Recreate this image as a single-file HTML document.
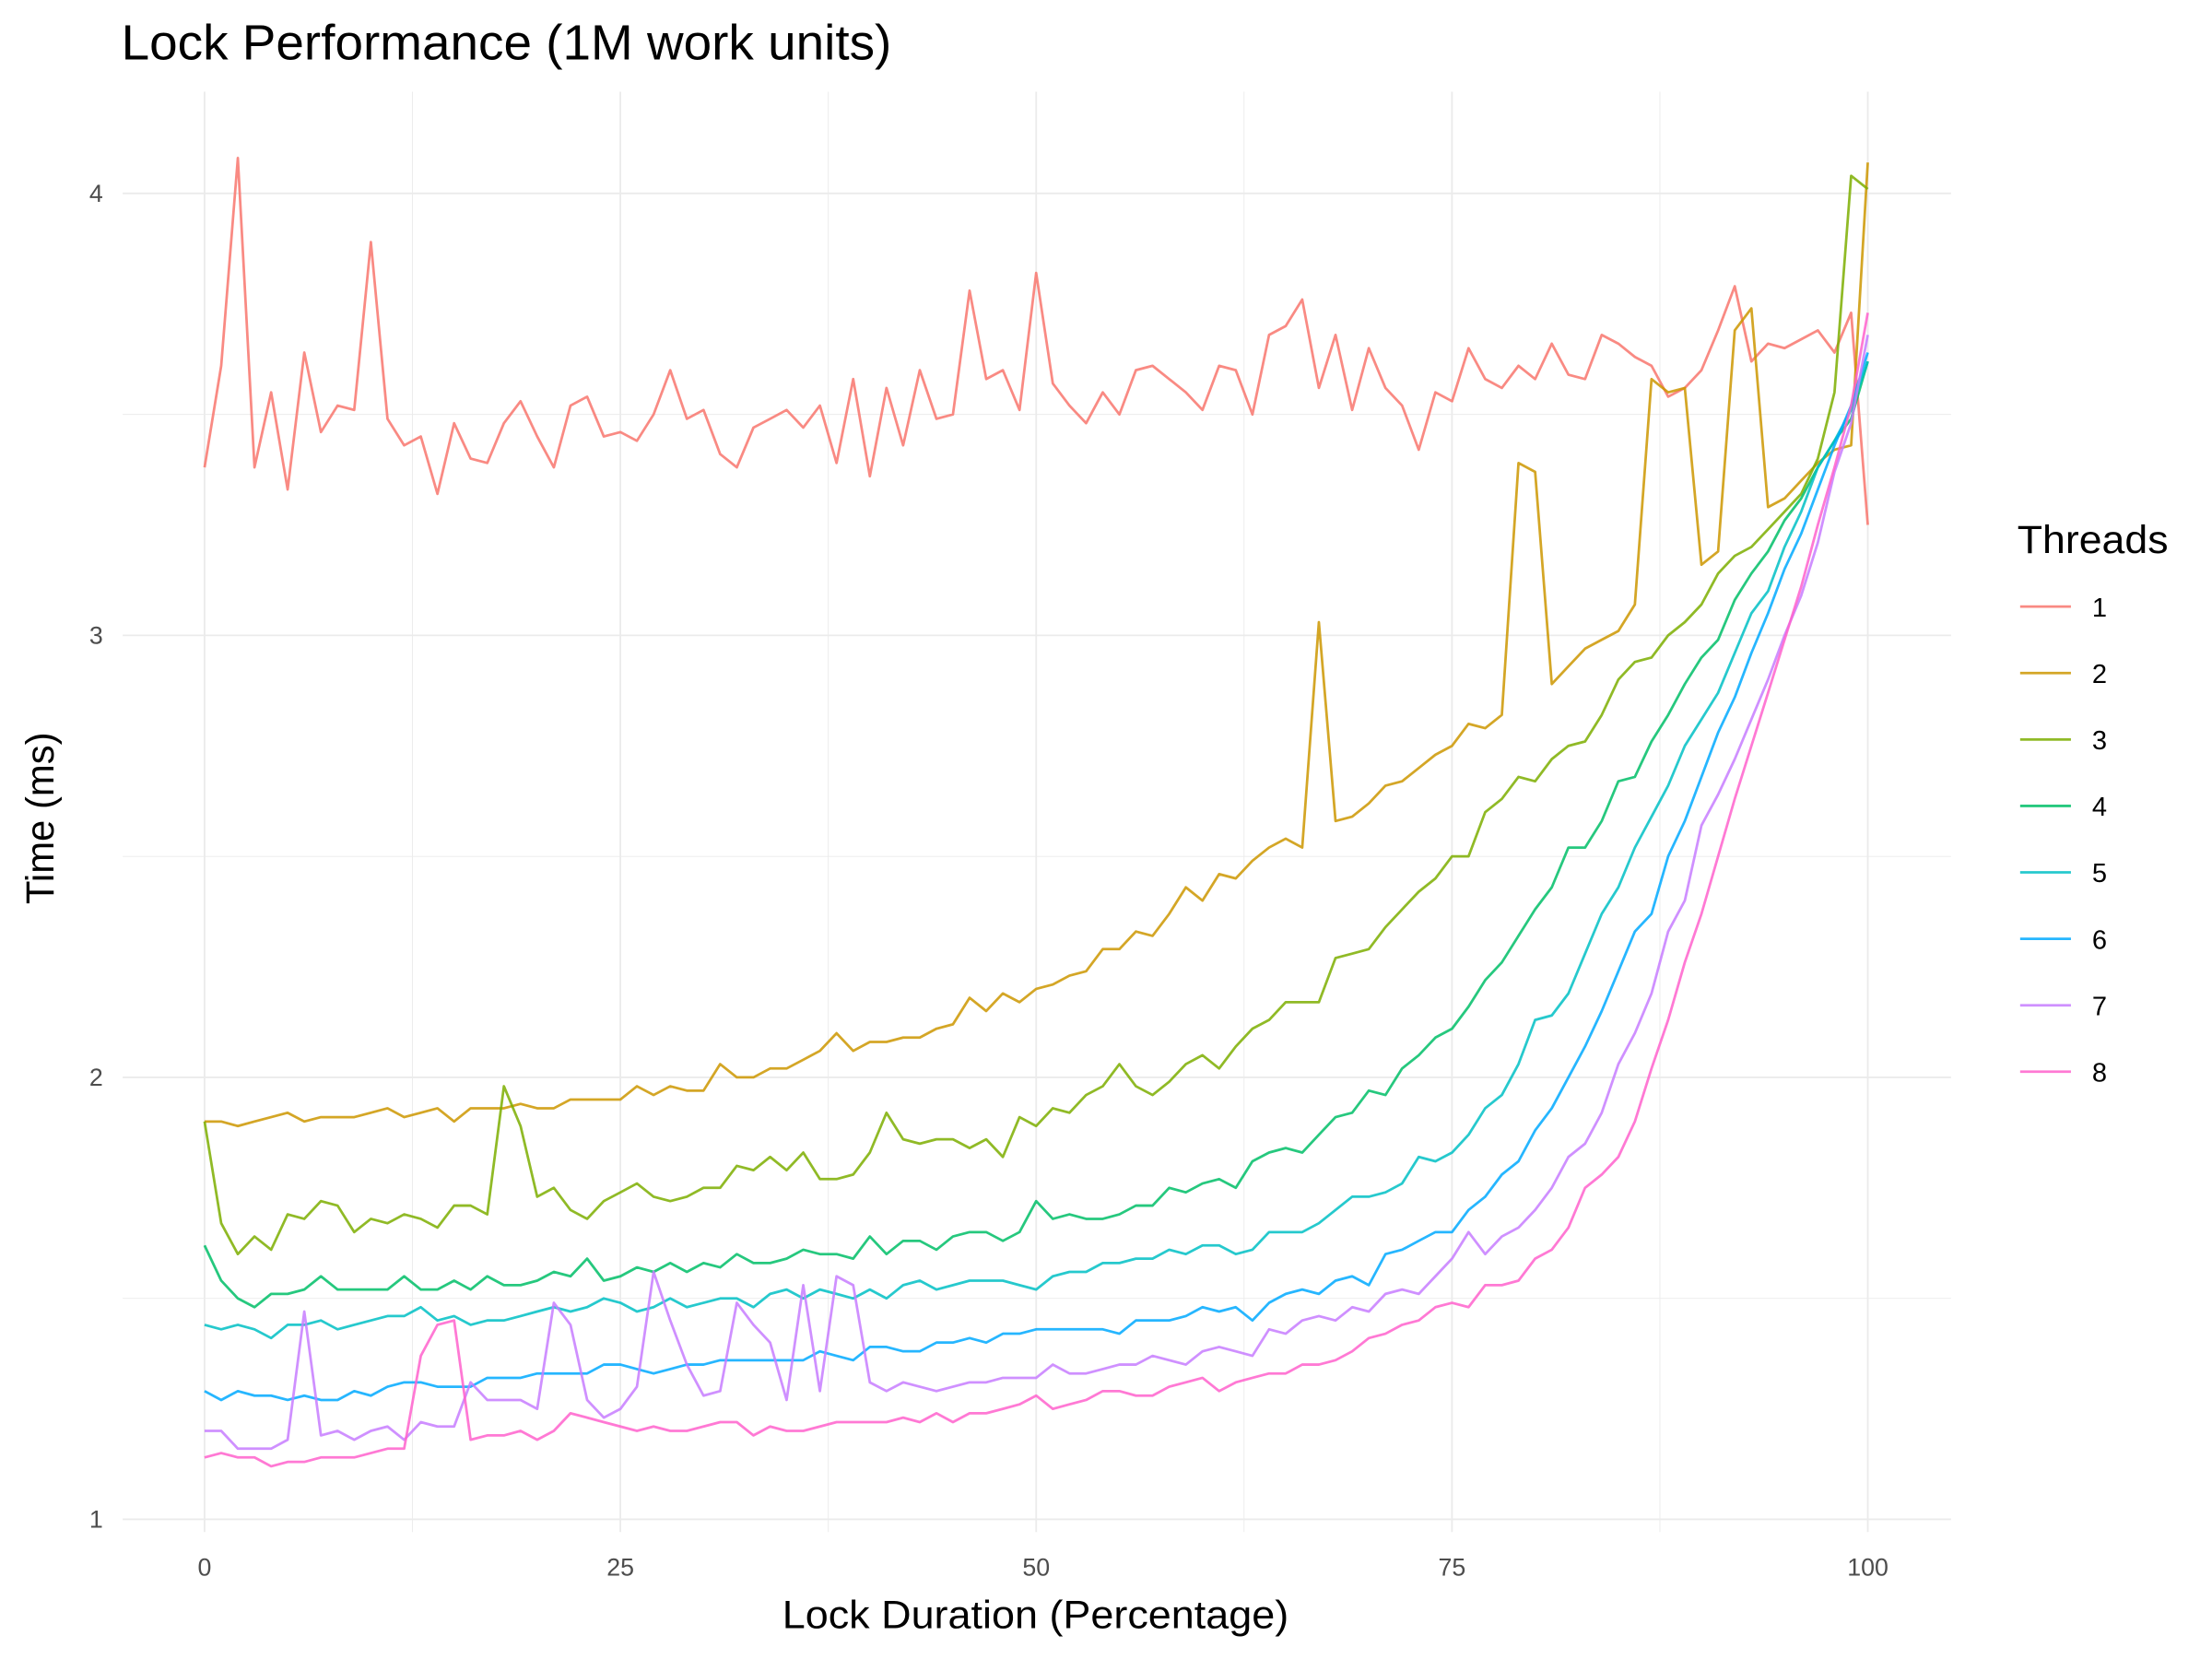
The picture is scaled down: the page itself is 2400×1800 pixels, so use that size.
<!DOCTYPE html>
<html><head><meta charset="utf-8"><style>html,body{margin:0;padding:0;background:#fff}svg{display:block}text{font-family:"Liberation Sans",sans-serif}</style></head>
<body>
<svg id="chart" width="2400" height="1800" viewBox="0 0 1568 1176" xmlns="http://www.w3.org/2000/svg">
<rect width="1568" height="1176" fill="#fff"/>
<text x="86" y="42" font-size="35" fill="#000" textLength="546" lengthAdjust="spacingAndGlyphs">Lock Performance (1M work units)</text>
<g id="grid"></g>
<g id="series"></g>
<g id="axes"></g>
<text x="734" y="1154" font-size="28" text-anchor="middle" textLength="359" lengthAdjust="spacingAndGlyphs">Lock Duration (Percentage)</text>
<text transform="translate(38,580) rotate(-90)" font-size="28" text-anchor="middle" textLength="122" lengthAdjust="spacingAndGlyphs">Time (ms)</text>
<g id="legend"></g>
</svg>
<script>
const xTicks=[0,25,50,75,100];
const yTicks=[1,2,3,4];
const seriesNames=["1","2","3","4","5","6","7","8"];
const colors=["#F8766D","#CD9600","#7CAE00","#00BE67","#00BFC4","#00A9FF","#C77CFF","#FF61CC"];
const s1=[3.38,3.61,4.08,3.38,3.55,3.33,3.64,3.46,3.52,3.51,3.89,3.49,3.43,3.45,3.32,3.48,3.40,3.39,3.48,3.53,3.45,3.38,3.52,3.54,3.45,3.46,3.44,3.50,3.60,3.49,3.51,3.41,3.38,3.47,3.49,3.51,3.47,3.52,3.39,3.58,3.36,3.56,3.43,3.60,3.49,3.50,3.78,3.58,3.60,3.51,3.82,3.57,3.52,3.48,3.55,3.50,3.60,3.61,3.58,3.55,3.51,3.61,3.60,3.50,3.68,3.70,3.76,3.56,3.68,3.51,3.65,3.56,3.52,3.42,3.55,3.53,3.65,3.58,3.56,3.61,3.58,3.66,3.59,3.58,3.68,3.66,3.63,3.61,3.54,3.56,3.60,3.69,3.79,3.62,3.66,3.65,3.67,3.69,3.64,3.73,3.25];
const s2=[1.90,1.90,1.89,1.90,1.91,1.92,1.90,1.91,1.91,1.91,1.92,1.93,1.91,1.92,1.93,1.90,1.93,1.93,1.93,1.94,1.93,1.93,1.95,1.95,1.95,1.95,1.98,1.96,1.98,1.97,1.97,2.03,2.00,2.00,2.02,2.02,2.04,2.06,2.10,2.06,2.08,2.08,2.09,2.09,2.11,2.12,2.18,2.15,2.19,2.17,2.20,2.21,2.23,2.24,2.29,2.29,2.33,2.32,2.37,2.43,2.40,2.46,2.45,2.49,2.52,2.54,2.52,3.03,2.58,2.59,2.62,2.66,2.67,2.70,2.73,2.75,2.80,2.79,2.82,3.39,3.37,2.89,2.93,2.97,2.99,3.01,3.07,3.58,3.55,3.56,3.16,3.19,3.69,3.74,3.29,3.31,3.35,3.39,3.42,3.43,4.07];
const s3=[1.90,1.67,1.60,1.64,1.61,1.69,1.68,1.72,1.71,1.65,1.68,1.67,1.69,1.68,1.66,1.71,1.71,1.69,1.98,1.89,1.73,1.75,1.70,1.68,1.72,1.74,1.76,1.73,1.72,1.73,1.75,1.75,1.80,1.79,1.82,1.79,1.83,1.77,1.77,1.78,1.83,1.92,1.86,1.85,1.86,1.86,1.84,1.86,1.82,1.91,1.89,1.93,1.92,1.96,1.98,2.03,1.98,1.96,1.99,2.03,2.05,2.02,2.07,2.11,2.13,2.17,2.17,2.17,2.27,2.28,2.29,2.34,2.38,2.42,2.45,2.50,2.50,2.60,2.63,2.68,2.67,2.72,2.75,2.76,2.82,2.90,2.94,2.95,3.00,3.03,3.07,3.14,3.18,3.20,3.24,3.28,3.32,3.40,3.55,4.04,4.01];
const s4=[1.62,1.54,1.50,1.48,1.51,1.51,1.52,1.55,1.52,1.52,1.52,1.52,1.55,1.52,1.52,1.54,1.52,1.55,1.53,1.53,1.54,1.56,1.55,1.59,1.54,1.55,1.57,1.56,1.58,1.56,1.58,1.57,1.60,1.58,1.58,1.59,1.61,1.60,1.60,1.59,1.64,1.60,1.63,1.63,1.61,1.64,1.65,1.65,1.63,1.65,1.72,1.68,1.69,1.68,1.68,1.69,1.71,1.71,1.75,1.74,1.76,1.77,1.75,1.81,1.83,1.84,1.83,1.87,1.91,1.92,1.97,1.96,2.02,2.05,2.09,2.11,2.16,2.22,2.26,2.32,2.38,2.43,2.52,2.52,2.58,2.67,2.68,2.76,2.82,2.89,2.95,2.99,3.08,3.14,3.19,3.26,3.31,3.38,3.44,3.49,3.62];
const s5=[1.44,1.43,1.44,1.43,1.41,1.44,1.44,1.45,1.43,1.44,1.45,1.46,1.46,1.48,1.45,1.46,1.44,1.45,1.45,1.46,1.47,1.48,1.47,1.48,1.50,1.49,1.47,1.48,1.50,1.48,1.49,1.50,1.50,1.48,1.51,1.52,1.50,1.52,1.51,1.50,1.52,1.50,1.53,1.54,1.52,1.53,1.54,1.54,1.54,1.53,1.52,1.55,1.56,1.56,1.58,1.58,1.59,1.59,1.61,1.60,1.62,1.62,1.60,1.61,1.65,1.65,1.65,1.67,1.70,1.73,1.73,1.74,1.76,1.82,1.81,1.83,1.87,1.93,1.96,2.03,2.13,2.14,2.19,2.28,2.37,2.43,2.52,2.59,2.66,2.75,2.81,2.87,2.96,3.05,3.10,3.20,3.28,3.38,3.44,3.51,3.62];
const s6=[1.29,1.27,1.29,1.28,1.28,1.27,1.28,1.27,1.27,1.29,1.28,1.30,1.31,1.31,1.30,1.30,1.30,1.32,1.32,1.32,1.33,1.33,1.33,1.33,1.35,1.35,1.34,1.33,1.34,1.35,1.35,1.36,1.36,1.36,1.36,1.36,1.36,1.38,1.37,1.36,1.39,1.39,1.38,1.38,1.40,1.40,1.41,1.40,1.42,1.42,1.43,1.43,1.43,1.43,1.43,1.42,1.45,1.45,1.45,1.46,1.48,1.47,1.48,1.45,1.49,1.51,1.52,1.51,1.54,1.55,1.53,1.60,1.61,1.63,1.65,1.65,1.70,1.73,1.78,1.81,1.88,1.93,2.00,2.07,2.15,2.24,2.33,2.37,2.50,2.58,2.68,2.78,2.86,2.96,3.05,3.15,3.23,3.33,3.43,3.52,3.64];
const s7=[1.20,1.20,1.16,1.16,1.16,1.18,1.47,1.19,1.20,1.18,1.20,1.21,1.18,1.22,1.21,1.21,1.31,1.27,1.27,1.27,1.25,1.49,1.44,1.27,1.23,1.25,1.30,1.56,1.45,1.35,1.28,1.29,1.49,1.44,1.40,1.27,1.53,1.29,1.55,1.53,1.31,1.29,1.31,1.30,1.29,1.30,1.31,1.31,1.32,1.32,1.32,1.35,1.33,1.33,1.34,1.35,1.35,1.37,1.36,1.35,1.38,1.39,1.38,1.37,1.43,1.42,1.45,1.46,1.45,1.48,1.47,1.51,1.52,1.51,1.55,1.59,1.65,1.60,1.64,1.66,1.70,1.75,1.82,1.85,1.92,2.03,2.10,2.19,2.33,2.40,2.57,2.64,2.72,2.81,2.90,3.00,3.09,3.21,3.37,3.48,3.68];
const s8=[1.14,1.15,1.14,1.14,1.12,1.13,1.13,1.14,1.14,1.14,1.15,1.16,1.16,1.37,1.44,1.45,1.18,1.19,1.19,1.20,1.18,1.20,1.24,1.23,1.22,1.21,1.20,1.21,1.20,1.20,1.21,1.22,1.22,1.19,1.21,1.20,1.20,1.21,1.22,1.22,1.22,1.22,1.23,1.22,1.24,1.22,1.24,1.24,1.25,1.26,1.28,1.25,1.26,1.27,1.29,1.29,1.28,1.28,1.30,1.31,1.32,1.29,1.31,1.32,1.33,1.33,1.35,1.35,1.36,1.38,1.41,1.42,1.44,1.45,1.48,1.49,1.48,1.53,1.53,1.54,1.59,1.61,1.66,1.75,1.78,1.82,1.90,2.02,2.13,2.26,2.37,2.50,2.63,2.75,2.87,2.99,3.11,3.25,3.38,3.52,3.73];
const allSeries=[s1,s2,s3,s4,s5,s6,s7,s8];

const NS="http://www.w3.org/2000/svg";
const X0=145,X1=1324,YB=1077,YU=313.3;
function xs(v){return X0+(X1-X0)*v/100;}
function ys(v){return YB-(v-1)*YU;}
function mk(tag,attrs,parent){const e=document.createElementNS(NS,tag);for(const k in attrs)e.setAttribute(k,attrs[k]);parent.appendChild(e);return e;}
const grid=document.getElementById('grid'),axes=document.getElementById('axes'),ser=document.getElementById('series'),leg=document.getElementById('legend');
const PL=87,PR=1383,PT=65;
for(let i=0;i<xTicks.length-1;i++){const v=(xTicks[i]+xTicks[i+1])/2;const l=mk('line',{x1:xs(v),x2:xs(v),y1:PT,y2:YB+9,stroke:'#ebebeb','stroke-width':0.6},grid);

}
for(let i=0;i<yTicks.length-1;i++){const v=(yTicks[i]+yTicks[i+1])/2;const l=mk('line',{x1:PL,x2:PR,y1:ys(v),y2:ys(v),stroke:'#ebebeb','stroke-width':0.6},grid);

}
xTicks.forEach(v=>{const l=mk('line',{x1:xs(v),x2:xs(v),y1:PT,y2:YB+9,stroke:'#ebebeb','stroke-width':1.2},grid);


const t=mk('text',{x:xs(v),y:1117,'font-size':17.5,fill:'#4d4d4d','text-anchor':'middle'},axes);t.textContent=v;

});
yTicks.forEach(v=>{const l=mk('line',{x1:PL,x2:PR,y1:ys(v),y2:ys(v),stroke:'#ebebeb','stroke-width':1.2},grid);


const t=mk('text',{x:73,y:ys(v)+6,'font-size':17.5,fill:'#4d4d4d','text-anchor':'end'},axes);t.textContent=v;

});
allSeries.forEach((s,i)=>{const pts=s.map((v,j)=>xs(j*100/(s.length-1)).toFixed(1)+','+ys(v).toFixed(1)).join(' ');
const p=mk('polyline',{points:pts,fill:'none',stroke:colors[i],'stroke-width':1.8,'stroke-linejoin':'round','stroke-opacity':0.85},ser);

});
const lt=mk('text',{x:1430,y:392,'font-size':28,fill:'#000',textLength:107,lengthAdjust:'spacingAndGlyphs'},leg);lt.textContent='Threads';


seriesNames.forEach((n,i)=>{const y=430+i*47.1;
const g=mk('g',{},leg);


mk('line',{x1:1432,x2:1468,y1:y,y2:y,stroke:colors[i],'stroke-width':1.8,'stroke-opacity':0.85},g);
const t=mk('text',{x:1483,y:y+7,'font-size':19,fill:'#000'},g);t.textContent=n;});
</script>
</body></html>
